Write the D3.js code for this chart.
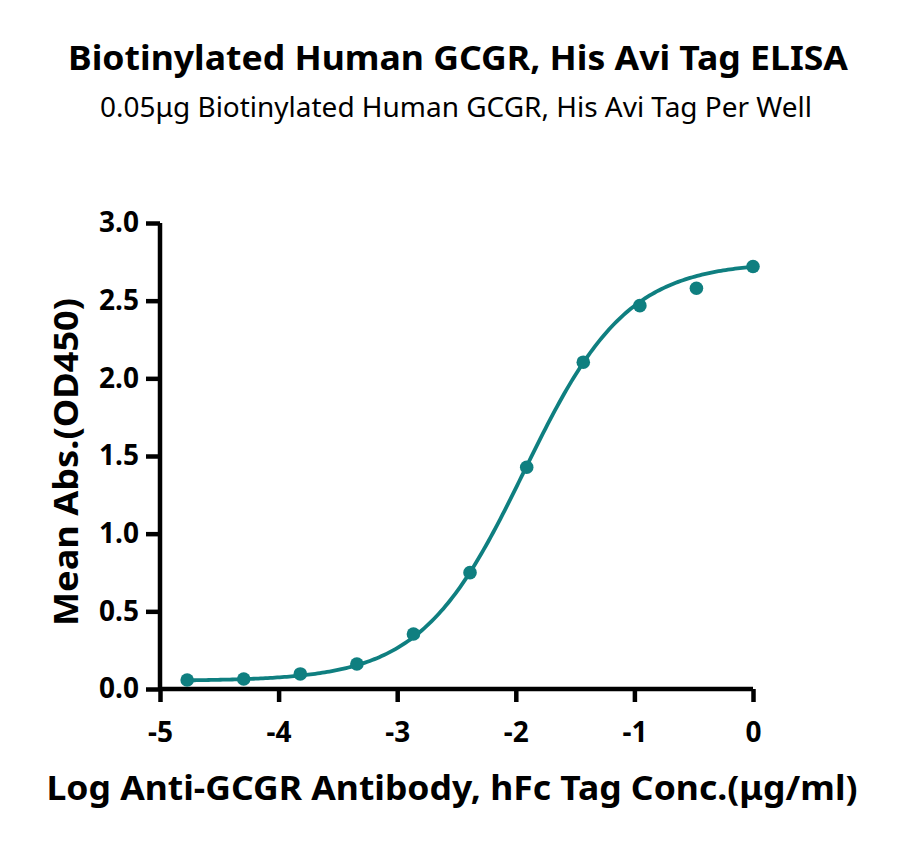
<!DOCTYPE html>
<html><head><meta charset="utf-8">
<script src="https://cdn.jsdelivr.net/npm/d3@7"></script>
<style>body{margin:0;background:#fff}svg{display:block}</style>
</head><body>
<svg id="c" width="900" height="844"></svg>
<script>
// Data (log10 concentration, µg/ml; mean OD450)
const logConc = [-4.771, -4.294, -3.817, -3.340, -2.863, -2.386, -1.908, -1.431, -0.954, -0.477, 0];
const meanAbs = [0.058, 0.064, 0.097, 0.161, 0.354, 0.749, 1.428, 2.104, 2.468, 2.580, 2.720];
// 4PL fit parameters estimated from the drawn curve
const fitBottom = [0.052];
const fitTop = [2.75];
const fitLogEC50 = [-1.93];
const fitHill = [1.0];
const xTicks = [-5, -4, -3, -2, -1, 0];
const yTicks = [0, 0.5, 1.0, 1.5, 2.0, 2.5, 3.0];

const color = "#0f7f80";
const font = "'Noto Sans', sans-serif";
const svg = d3.select("#c");
const x = d3.scaleLinear().domain([-5, 0]).range([160, 753]);
const y = d3.scaleLinear().domain([0, 3]).range([689, 223]);

svg.append("text").attr("x", 458).attr("y", 70).attr("text-anchor", "middle")
  .attr("textLength", 780).attr("lengthAdjust", "spacingAndGlyphs")
  .style("font-family", font).style("font-weight", 700).style("font-size", "34px")
  .text("Biotinylated Human GCGR, His Avi Tag ELISA");
svg.append("text").attr("x", 456).attr("y", 117).attr("text-anchor", "middle")
  .attr("textLength", 712).attr("lengthAdjust", "spacingAndGlyphs")
  .style("font-family", font).style("font-weight", 400).style("font-size", "28px")
  .text("0.05μg Biotinylated Human GCGR, His Avi Tag Per Well");

const fmtX = d => String(d);
const xAxis = svg.append("g").attr("transform", "translate(0,689)")
  .call(d3.axisBottom(x).tickValues(xTicks).tickSize(13).tickPadding(20).tickFormat(fmtX));
const yAxis = svg.append("g").attr("transform", "translate(160,0)")
  .call(d3.axisLeft(y).tickValues(yTicks).tickSize(14).tickPadding(7).tickFormat(d3.format(".1f")));
[xAxis, yAxis].forEach(g => {
  g.select(".domain").attr("stroke", "#000").attr("stroke-width", 4.5);
  g.selectAll(".tick line").attr("stroke", "#000").attr("stroke-width", 4.5);
  g.selectAll(".tick text").style("font-family", font).style("font-weight", 700)
    .style("font-size", "28px").attr("fill", "#000");
});
xAxis.select(".domain").attr("d", "M" + x(-5) + ",0H" + x(0));
yAxis.select(".domain").attr("d", "M0," + y(3) + "V" + y(0));

svg.append("text").attr("x", 452).attr("y", 800).attr("text-anchor", "middle")
  .attr("textLength", 811).attr("lengthAdjust", "spacingAndGlyphs")
  .style("font-family", font).style("font-weight", 700).style("font-size", "34px")
  .text("Log Anti-GCGR Antibody, hFc Tag Conc.(μg/ml)");
svg.append("text").attr("transform", "translate(78,462) rotate(-90)").attr("text-anchor", "middle")
  .attr("textLength", 328).attr("lengthAdjust", "spacingAndGlyphs")
  .style("font-family", font).style("font-weight", 700).style("font-size", "34px")
  .text("Mean Abs.(OD450)");

// fitted curve
const xs = d3.range(logConc[0], 0.0001, 0.02);
const curve = xs.map(v => [v, fitBottom[0] + (fitTop[0] - fitBottom[0]) / (1 + Math.pow(10, (fitLogEC50[0] - v) * fitHill[0]))]);
svg.append("path").datum(curve)
  .attr("fill", "none").attr("stroke", color).attr("stroke-width", 3.8)
  .attr("d", d3.line().x(d => x(d[0])).y(d => y(d[1])));

svg.selectAll("circle.pt").data(logConc.map((v, i) => [v, meanAbs[i]])).join("circle")
  .attr("class", "pt").attr("cx", d => x(d[0])).attr("cy", d => y(d[1])).attr("r", 6.8).attr("fill", color);
</script>
</body></html>
